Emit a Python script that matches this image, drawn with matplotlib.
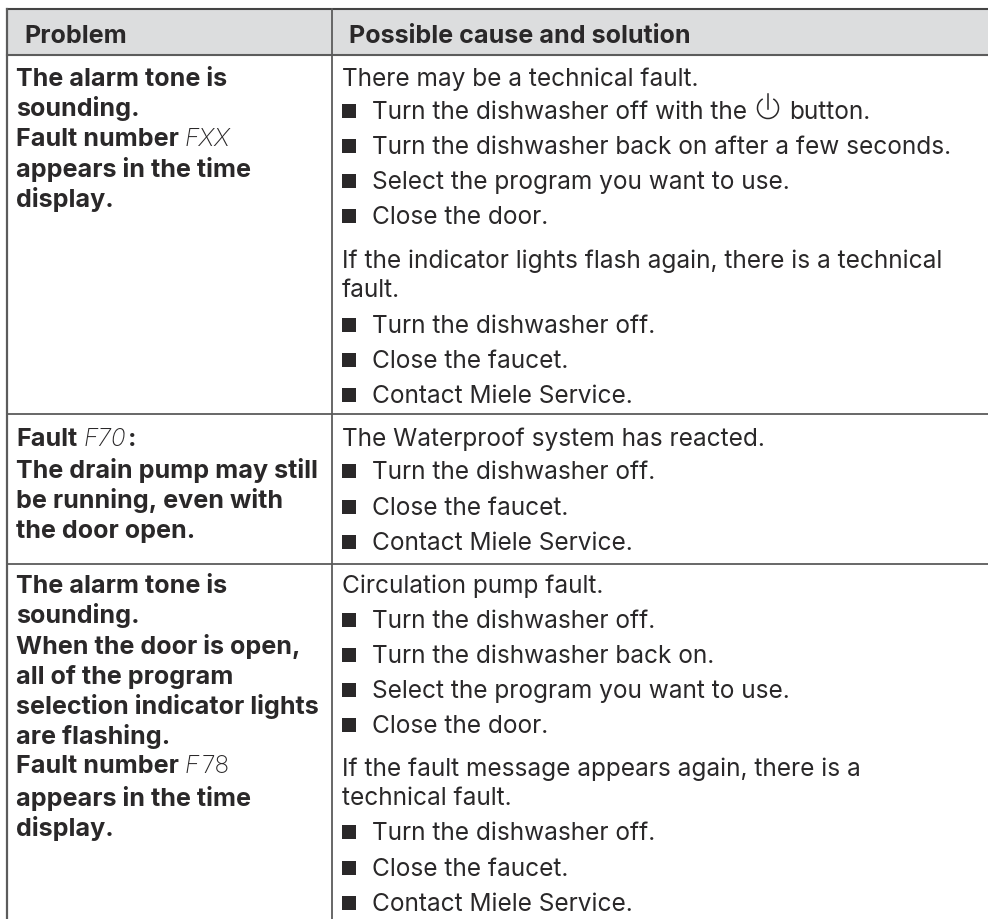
import matplotlib
matplotlib.use("Agg")
import matplotlib.pyplot as plt
from matplotlib.patches import Arc, Rectangle

INK = "#2a2829"
LINE = "#5c5c5c"
HEAD_BG = "#dcddde"
FONT = "Inter"
SIZE = 17.6
BOLD_SIZE = 18.1

# the table text, line by line
headers = ["Problem", "Possible cause and solution"]

# left column: (bold text, display code, bold text after the code)
problem_1 = [("The alarm tone is", "", ""), ("sounding.", "", ""), ("Fault number", "FXX", ""),
             ("appears in the time", "", ""), ("display.", "", "")]
problem_2 = [("Fault", "F70", ":"), ("The drain pump may still", "", ""),
             ("be running, even with", "", ""), ("the door open.", "", "")]
problem_3 = [("The alarm tone is", "", ""), ("sounding.", "", ""), ("When the door is open,", "", ""),
             ("all of the program", "", ""), ("selection indicator lights", "", ""), ("are flashing.", "", ""),
             ("Fault number", "F78", ""), ("appears in the time", "", ""), ("display.", "", "")]

# right column: (text, has bullet)
cause_1 = [("There may be a technical fault.", False),
           ("Turn the dishwasher off with the", True),
           ("Turn the dishwasher back on after a few seconds.", True),
           ("Select the program you want to use.", True),
           ("Close the door.", True),
           ("If the indicator lights flash again, there is a technical", False),
           ("fault.", False),
           ("Turn the dishwasher off.", True),
           ("Close the faucet.", True),
           ("Contact Miele Service.", True)]
cause_2 = [("The Waterproof system has reacted.", False),
           ("Turn the dishwasher off.", True),
           ("Close the faucet.", True),
           ("Contact Miele Service.", True)]
cause_3 = [("Circulation pump fault.", False),
           ("Turn the dishwasher off.", True),
           ("Turn the dishwasher back on.", True),
           ("Select the program you want to use.", True),
           ("Close the door.", True),
           ("If the fault message appears again, there is a", False),
           ("technical fault.", False),
           ("Turn the dishwasher off.", True),
           ("Close the faucet.", True),
           ("Contact Miele Service.", True)]

# baselines in pixels
problem_y = [[86, 116, 146, 177, 207], [446, 478, 508, 538],
             [593, 623, 654, 684, 714, 744, 773, 806, 836]]
cause_y = [[86, 119, 154, 189, 224, 268, 297, 333, 368, 403], [446, 479, 515, 550],
           [593, 628, 663, 698, 733, 776, 805, 840, 876, 911]]

fig = plt.figure(figsize=(9.88, 9.2), dpi=100)
ax = fig.add_axes([0, 0, 1, 1])
ax.set_xlim(0, 988)
ax.set_ylim(920, 0)
ax.axis("off")

# header band and grid
ax.add_patch(Rectangle((7, 10), 981, 46, fc=HEAD_BG, ec="none"))
ax.plot([7, 988], [10, 10], color="#444444", lw=1.5)
ax.plot([7, 988], [56, 56], color=LINE, lw=1.5)
ax.plot([7, 988], [415, 415], color=LINE, lw=1.3)
ax.plot([7, 988], [565, 565], color=LINE, lw=1.3)
ax.plot([7, 7], [10, 920], color=LINE, lw=1.6)
ax.plot([332, 332], [10, 920], color=LINE, lw=1.3)

ax.text(24, 43, headers[0], fontsize=BOLD_SIZE, fontweight="bold", color=INK, family=FONT, va="baseline")
ax.text(349, 43, headers[1], fontsize=BOLD_SIZE, fontweight="bold", color=INK, family=FONT, va="baseline")

fig.canvas.draw()
rend = fig.canvas.get_renderer()


def after(t):
    # x position (data) where a text ends
    return ax.transData.inverted().transform(t.get_window_extent(rend).get_points())[1][0]


for lines, ys in zip([problem_1, problem_2, problem_3], problem_y):
    for (txt, code, tail), y in zip(lines, ys):
        t = ax.text(16, y, txt, fontsize=BOLD_SIZE, fontweight="bold", color=INK, family=FONT, va="baseline")
        if code == "F78":
            # only the F is slanted here
            c = ax.text(after(t) + 6, y, "F", fontsize=SIZE, style="italic", fontweight="light", color=INK,
                        family=FONT, va="baseline")
            ax.text(after(c) + 2, y, "78", fontsize=SIZE, fontweight="light", color=INK,
                    family=FONT, va="baseline")
        elif code:
            c = ax.text(after(t) + 6, y, code, fontsize=SIZE, style="italic", fontweight="light", color=INK,
                        family=FONT, va="baseline")
            if tail:
                ax.text(after(c) + 2, y, tail, fontsize=BOLD_SIZE, fontweight="bold", color=INK,
                        family=FONT, va="baseline")

for lines, ys in zip([cause_1, cause_2, cause_3], cause_y):
    for (txt, bullet), y in zip(lines, ys):
        x = 342
        if bullet:
            ax.add_patch(Rectangle((342, y - 14), 14, 14, fc=INK, ec="none"))
            x = 372
        t = ax.text(x, y, txt, fontsize=SIZE, color=INK, family=FONT, va="baseline")
        if txt.endswith("with the"):
            # power symbol, then the rest of the line
            px = after(t) + 21
            ax.add_patch(Arc((px, y - 10), 21, 21, theta1=-60, theta2=240, color=INK, lw=1.1))
            ax.plot([px, px], [y - 24, y - 9], color=INK, lw=1.1)
            ax.text(px + 21, y, "button.", fontsize=SIZE, color=INK, family=FONT, va="baseline")

fig.savefig("out.png", dpi=100)
